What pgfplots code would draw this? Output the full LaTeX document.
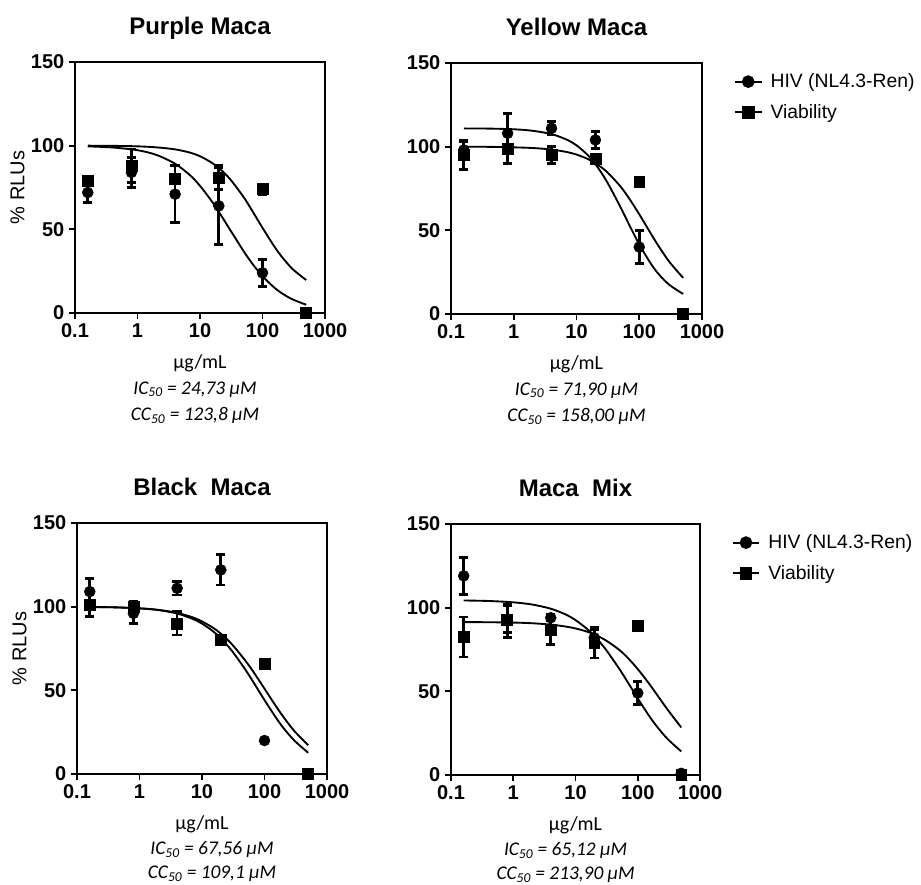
\documentclass[border=0pt]{standalone}
\usepackage{fontspec}
\setmainfont{Liberation Sans}
\newfontfamily\calibri{Carlito}
\usepackage{pgfplots}
\pgfplotsset{compat=1.18}

\tikzset{ictext/.style={font=\calibri\itshape\fontsize{14.5}{17}\selectfont}}

\pgfplotsset{
  maca/.style={
    scale only axis, height=188.25pt,
    xmin=0.1, xmax=1000, ymin=0, ymax=150,
    xtick={0.1,1,10,100,1000}, xticklabels={0.1,1,10,100,1000},
    ytick={0,50,100,150}, yticklabels={0,50,100,150},
    xminorticks=false, yminorticks=false,
    tick pos=left, tick align=outside, major tick length=4.5pt,
    tick style={black, line width=1.3pt},
    axis line style={line width=1.6pt},
    tick label style={font=\fontsize{15}{17}\selectfont\bfseries},
    xlabel={μg/mL},
    every axis x label/.style={at={(axis description cs:0.5,-0.2)}, anchor=center,
      font=\calibri\fontsize{15}{17}\selectfont},
    every axis y label/.style={at={(axis description cs:-0.23,0.5)}, rotate=90,
      anchor=center, font=\fontsize{15}{18}\selectfont},
    every axis title/.style={at={(0.5,1)}, anchor=base, yshift=21pt,
      font=\fontsize{18}{21}\selectfont\bfseries},
    legend image code/.code={\draw[mark repeat=2, mark phase=2, ##1]
      plot coordinates {(0pt,0pt) (10pt,0pt) (20pt,0pt)};},
    legend cell align=left,
    legend style={draw=none, fill=none, at={(1.11,0.98)}, anchor=north west,
      font=\fontsize{14.5}{17}\selectfont, row sep=7pt, column sep=4pt},
    clip=false,
  },
  hiv/.style={only marks, mark=*, mark size=4.1pt, black, forget plot},
  via/.style={only marks, mark=square*, mark size=4.1pt, black, forget plot},
  fitcurve/.style={black, line width=1.4pt, smooth, no marks, forget plot},
}
% error bar keys, given last in each \addplot
\pgfplotsset{
  /pgfplots/error bars/ebars/.style={
    /pgfplots/error bars/y dir=both, /pgfplots/error bars/y explicit,
    /pgfplots/error bars/error bar style={line width=2pt},
    /pgfplots/error bars/error mark options={rotate=90, line width=2pt, mark size=3.5pt}},
}

\begin{document}
\begin{tikzpicture}
\path[use as bounding box] (0,0) rectangle (690.75pt,-663.75pt);

% Purple Maca
\begin{axis}[xmode=log, maca, at={(56.25pt,-234.75pt)}, width=187.5pt,
  title={Purple Maca}, ylabel={\% RLUs}]
\addplot[fitcurve] coordinates {(0.16,99.6) (0.4,98.9) (1,97.3) (2,94.5) (4,89.2) (7,82.2)
  (10,76.0) (15,67.4) (20,60.5) (30,50) (50,36.9) (70,29.1) (100,22.0) (150,15.6)
  (200,12.0) (300,8.2) (500,4.95)};
\addplot[fitcurve] coordinates {(0.16,100) (0.4,99.9) (1,99.6) (2,99.0) (4,97.8) (7,95.8)
  (10,93.7) (15,90.1) (20,86.7) (30,80.2) (50,69.2) (70,60.5) (100,50.9) (150,40.5)
  (200,34.0) (300,26.4) (500,19.7)};
\addplot[via, error bars/.cd, ebars] coordinates {(0.16,79) +- (0,2) (0.8,88) +- (0,10)
  (4,80) +- (0,8) (20,81) +- (0,7) (100,74) +- (0,3) (500,0) +- (0,0)};
\addplot[hiv, error bars/.cd, ebars] coordinates {(0.16,72) +- (0,6) (0.8,84) +- (0,9)
  (4,71) +- (0,17) (20,64) +- (0,23) (100,24) +- (0,8) (500,0) +- (0,0)};
\node[ictext] at (axis description cs:0.48,-0.304) {IC\textsubscript{50} = 24,73 μM};
\node[ictext] at (axis description cs:0.48,-0.408) {CC\textsubscript{50} = 123,8 μM};
\end{axis}

% Yellow Maca
\begin{axis}[xmode=log, maca, at={(338.25pt,-235.5pt)}, width=188.25pt,
  title={Yellow Maca}]
\addlegendimage{black, line width=1.5pt, mark=*, mark size=4pt}
\addlegendentry{HIV (NL4.3-Ren)}
\addlegendimage{black, line width=1.5pt, mark=square*, mark size=4pt}
\addlegendentry{Viability}
\addplot[fitcurve] coordinates {(0.16,110.9) (0.4,110.8) (1,110.4) (2,109.5) (4,107.5)
  (7,104.2) (10,100.8) (15,95.1) (20,89.6) (30,79.6) (50,64.0) (70,52.9) (100,41.6)
  (150,30.6) (200,24.2) (300,17.5) (500,12.0)};
\addplot[fitcurve] coordinates {(0.16,100) (0.4,99.9) (1,99.6) (2,99.2) (4,98.3) (7,96.8)
  (10,95.3) (15,92.7) (20,90.1) (30,85.2) (50,76.3) (70,68.7) (100,59.6) (150,48.6)
  (200,41.0) (300,31.3) (500,21.6)};
\addplot[via, error bars/.cd, ebars] coordinates {(0.16,95) +- (0,8.6) (0.8,99) +- (0,9)
  (4,95) +- (0,5) (20,93) +- (0,1) (100,79) +- (0,1) (500,0) +- (0,0)};
\addplot[hiv, error bars/.cd, ebars] coordinates {(0.16,98) +- (0,5) (0.8,108) +- (0,12)
  (4,111) +- (0,4) (20,104) +- (0,5) (100,40) +- (0,10) (500,0) +- (0,0)};
\node[ictext] at (axis description cs:0.5,-0.304) {IC\textsubscript{50} = 71,90 μM};
\node[ictext] at (axis description cs:0.5,-0.408) {CC\textsubscript{50} = 158,00 μM};
\end{axis}

% Black Maca
\begin{axis}[xmode=log, maca, at={(57.75pt,-580.5pt)}, width=187.5pt,
  title={Black~~Maca}, ylabel={\% RLUs}]
\addplot[fitcurve] coordinates {(0.16,99.85) (0.4,99.6) (1,99.0) (2,98.0) (4,95.9) (7,92.8)
  (10,89.9) (15,85.3) (20,81.1) (30,73.7) (50,62.1) (70,53.5) (100,44.2) (150,34.1)
  (200,27.6) (300,20.0) (500,12.7)};
\addplot[fitcurve] coordinates {(0.16,99.8) (0.4,99.6) (1,99.0) (2,98.1) (4,96.3) (7,93.7)
  (10,91.2) (15,87.4) (20,83.9) (30,77.6) (50,67.5) (70,59.8) (100,51.0) (150,40.9)
  (200,34.2) (300,25.7) (500,17.2)};
\addplot[via, error bars/.cd, ebars] coordinates {(0.16,101) +- (0,7) (0.8,100) +- (0,3)
  (4,90) +- (0,7) (20,80) +- (0,2) (100,66) +- (0,0) (500,0) +- (0,0)};
\addplot[hiv, error bars/.cd, ebars] coordinates {(0.16,109) +- (0,8) (0.8,96) +- (0,6)
  (4,111) +- (0,4) (20,122) +- (0,9) (100,20) +- (0,0) (500,0) +- (0,0)};
\node[ictext] at (axis description cs:0.54,-0.302) {IC\textsubscript{50} = 67,56 μM};
\node[ictext] at (axis description cs:0.54,-0.398) {CC\textsubscript{50} = 109,1 μM};
\end{axis}

% Maca Mix
\begin{axis}[xmode=log, maca, at={(338.25pt,-581.25pt)}, width=186.75pt,
  title={Maca~~Mix}]
\addlegendimage{black, line width=1.5pt, mark=*, mark size=4pt}
\addlegendentry{HIV (NL4.3-Ren)}
\addlegendimage{black, line width=1.5pt, mark=square*, mark size=4pt}
\addlegendentry{Viability}
\addplot[fitcurve] coordinates {(0.16,104.3) (0.4,104.0) (1,103.2) (2,101.9) (4,99.4)
  (7,95.9) (10,92.6) (15,87.6) (20,83.2) (30,75.5) (50,63.7) (70,55.1) (100,45.8)
  (150,35.7) (200,29.3) (300,21.6) (500,14.1)};
\addplot[fitcurve] coordinates {(0.16,91.4) (0.4,91.3) (1,91.1) (2,90.7) (4,89.9) (7,88.7)
  (10,87.6) (15,85.8) (20,84.0) (30,80.7) (50,74.9) (70,69.8) (100,63.3) (150,54.9)
  (200,48.4) (300,39.2) (500,28.4)};
\addplot[via, error bars/.cd, ebars] coordinates {(0.16,82.5) +- (0,12) (0.8,93) +- (0,8)
  (4,87) +- (0,9) (20,79) +- (0,9) (100,89) +- (0,3) (500,0) +- (0,0)};
\addplot[hiv, error bars/.cd, ebars] coordinates {(0.16,119) +- (0,11) (0.8,92) +- (0,10)
  (4,94) +- (0,2) (20,82) +- (0,5) (100,49) +- (0,7) (500,1) +- (0,0)};
\node[ictext] at (axis description cs:0.46,-0.302) {IC\textsubscript{50} = 65,12 μM};
\node[ictext] at (axis description cs:0.46,-0.398) {CC\textsubscript{50} = 213,90 μM};
\end{axis}
\end{tikzpicture}
\end{document}
